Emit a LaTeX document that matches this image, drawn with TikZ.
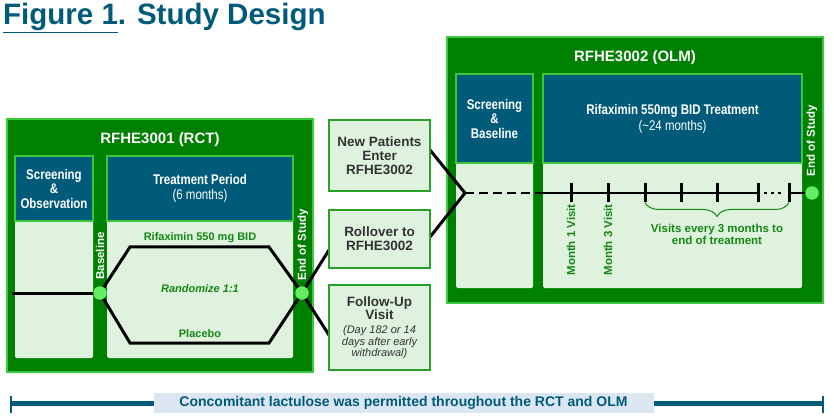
\documentclass[tikz,border=0pt]{standalone}
\usepackage{fontspec}
\setmainfont{Liberation Sans}
\newfontfamily\nar[FakeStretch=0.82]{Liberation Sans}
\usetikzlibrary{decorations.pathreplacing,calc}
\definecolor{tblue}{RGB}{0,90,122}
\definecolor{dkgreen}{RGB}{0,128,0}
\definecolor{ltgreen}{RGB}{60,200,60}
\definecolor{pale}{RGB}{222,242,222}
\definecolor{txtgreen}{RGB}{20,135,20}
\definecolor{dotgreen}{RGB}{100,238,100}
\definecolor{midborder}{RGB}{40,160,40}
\definecolor{darkgrey}{RGB}{51,51,51}
\definecolor{lblue}{RGB}{220,230,242}
\newcommand\fuital[1]{{\mdseries\itshape\fontsize{11}{11}\selectfont #1}}
\pgfdeclarelayer{back}
\pgfdeclarelayer{mid}
\pgfsetlayers{back,mid,main}
\begin{document}
\begin{tikzpicture}[x=1pt,y=-1pt,
  outerbox/.style={fill=dkgreen, draw=ltgreen, line width=2, inner sep=0, outer sep=0, anchor=north west},
  hdrbox/.style={fill=tblue, draw=ltgreen, line width=1.5, inner sep=0, outer sep=0, anchor=north west, text=white, align=center, font=\nar\bfseries\fontsize{14}{14.5}\selectfont},
  panel/.style={fill=pale, inner sep=0, outer sep=0, anchor=north west, rounded corners=1.5},
  midbox/.style={fill=pale, draw=midborder, line width=2.5, minimum width=101, inner sep=0, outer sep=0, anchor=north west, align=center, text=darkgrey, font=\bfseries\fontsize{13.5}{13.8}\selectfont},
  dotnode/.style={circle, fill=dotgreen, minimum size=13.5, inner sep=0},
  vlabel/.style={rotate=90, text=white, inner sep=0, font=\bfseries\fontsize{11.5}{12}\selectfont},
  glabel/.style={text=txtgreen, inner sep=0, font=\bfseries\fontsize{11}{12}\selectfont},
  boxtitle/.style={text=white, inner sep=0, font=\bfseries\fontsize{15}{15}\selectfont},
  arm/.style={black, line width=3},
  tline/.style={black, line width=2.5},
  tick/.style={black, line width=3},
]
\useasboundingbox (0,0) rectangle (834,419);

% title
\node[anchor=base west, inner sep=0, text=tblue, font=\bfseries\fontsize{29.5}{29.5}\selectfont] (title) at (3,25) {\underline{Figure 1}. Study Design};

\begin{pgfonlayer}{back}
% RCT
\node[outerbox, minimum width=306, minimum height=253] (rct) at (7,119) {};
\node[panel, minimum width=78, minimum height=137] (scr1p) at (15,221) {};
\node[panel, minimum width=186, minimum height=137] (trt1p) at (107,221) {};
\node[hdrbox, minimum width=78, minimum height=65] (scr1) at (15,156) {Screening\\\&\\Observation};
\node[hdrbox, minimum width=186, minimum height=65] (trt1) at (107,156) {Treatment Period\\{\mdseries(6 months)}};
% OLM
\node[outerbox, minimum width=376, minimum height=266] (olm) at (447,37) {};
\node[panel, minimum width=77, minimum height=125] (scr2p) at (456,163) {};
\node[panel, minimum width=259, minimum height=125] (trt2p) at (543,163) {};
\node[hdrbox, minimum width=77, minimum height=89] (scr2) at (456,74) {Screening\\\&\\Baseline};
\node[hdrbox, minimum width=259, minimum height=89] (trt2) at (543,74) {Rifaximin 550mg BID Treatment\\[1.5pt]{\mdseries(\textasciitilde24 months)}};
\end{pgfonlayer}

\node[boxtitle] (rcttitle) at (160,140) {RFHE3001 (RCT)};
\node[boxtitle] (olmtitle) at (635,58) {RFHE3002 (OLM)};

% RCT timeline
\node[vlabel] (bltxt) at (100,256) {Baseline};
\node[vlabel] (eostxt) at (303,245) {End of Study};
\node[dotnode] (bl) at (100,293) {};
\node[dotnode] (eos) at (302,293) {};
\coordinate (st) at (12,293);
\coordinate (h1) at (130,247);
\coordinate (h2) at (269,247);
\coordinate (h3) at (269,343);
\coordinate (h4) at (130,343);
\node[glabel] (rif) at (200,238) {Rifaximin 550 mg BID};
\node[glabel, font=\bfseries\itshape\fontsize{11}{12}\selectfont] (rand) at (200,289) {Randomize 1:1};
\node[glabel] (plc) at (200,334) {Placebo};

% middle boxes
\node[midbox, minimum height=71] (np) at (329,120) {New Patients\\Enter\\RFHE3002};
\node[midbox, minimum height=58] (ro) at (329,210) {Rollover to\\RFHE3002};
\node[midbox, minimum height=85] (fu) at (329,285) {Follow-Up\\Visit\\\fuital{(Day 182 or 14}\\[-2.5pt]\fuital{days after early}\\[-2.5pt]\fuital{withdrawal)}};

% OLM timeline
\node[vlabel] (eos2t) at (812,141) {End of Study};
\node[dotnode] (eos2) at (812,193) {};
\coordinate (j) at (465,193);
\coordinate (t0) at (537,193);
\coordinate (tk6) at (758,193);
\coordinate (tk7) at (789,193);
\node[glabel, font=\bfseries\fontsize{11.5}{12}\selectfont, rotate=90, anchor=east] (m1) at (571,204) {Month 1 Visit};
\node[glabel, font=\bfseries\fontsize{11.5}{12}\selectfont, rotate=90, anchor=east] (m3) at (608,204) {Month 3 Visit};
\node[glabel, font=\bfseries\fontsize{11.5}{12}\selectfont, align=center] (vis) at (717,234) {Visits every 3 months to\\end of treatment};

\begin{pgfonlayer}{mid}
\draw[arm] (st) -- (bl.center);
\draw[arm, line join=miter] (bl.center) -- (h1) -- (h2) -- (eos.center) -- (h3) -- (h4) -- cycle;
\draw[arm] (eos.center) -- ([yshift=-11pt]ro.west);
\draw[arm] (eos.center) -- ([yshift=-7.5pt]fu.west);
\draw[arm] ([yshift=5.5pt]np.east) -- (j);
\draw[arm] ([yshift=2pt]ro.east) -- (j);
\draw[tline, dash pattern=on 9pt off 5pt] (j) -- (t0);
\draw[tline] (t0) -- (tk6);
\draw[tline, dash pattern=on 2.5pt off 4.5pt] ([xshift=6pt]tk6) -- ([xshift=-4pt]tk7);
\draw[tline] (tk7) -- (eos2.center);
\foreach \x in {571,608,645,681,717,758,789} \draw[tick] (\x,183) -- (\x,202);
\draw[txtgreen, line width=1, decorate, decoration={brace, mirror, amplitude=14pt}] (645,202.5) -- (789,202.5);
\end{pgfonlayer}

% bottom bar
\coordinate (b0) at (11,403);
\coordinate (b1) at (823,403);
\draw[tblue, line width=5] (b0) -- (b1);
\draw[tblue, line width=2.5] ([yshift=7pt]b0) -- ([yshift=-10pt]b0);
\draw[tblue, line width=2.5] ([yshift=7pt]b1) -- ([yshift=-10pt]b1);
\node[fill=lblue, minimum width=500, minimum height=20, inner sep=0, text=tblue, font=\bfseries\fontsize{14}{14}\selectfont] (note) at (403.5,403) {Concomitant lactulose was permitted throughout the RCT and OLM};
\end{tikzpicture}
\end{document}
